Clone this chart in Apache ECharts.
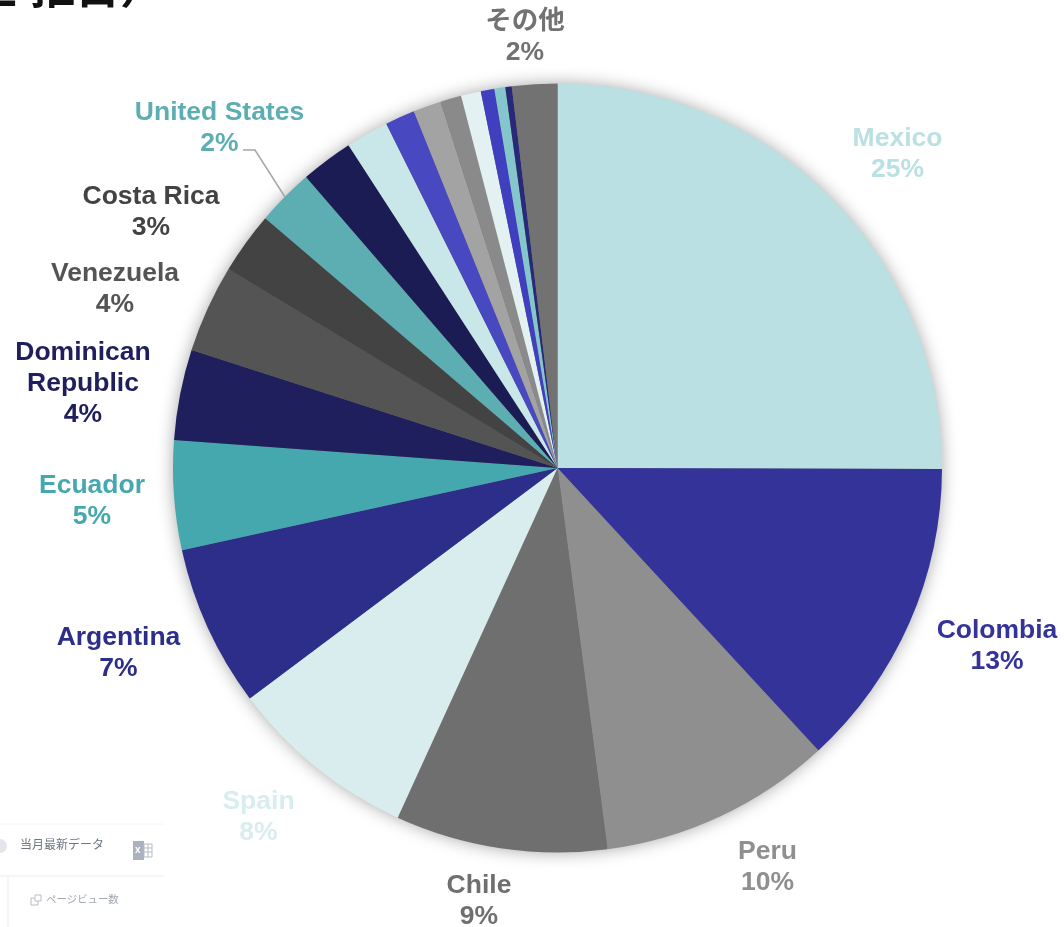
<!DOCTYPE html>
<html>
<head>
<meta charset="utf-8">
<style>html,body{margin:0;padding:0;background:#fff}#chart{width:1064px;height:927px}</style>
<script src="https://cdn.jsdelivr.net/npm/echarts@6/dist/echarts.min.js"></script>
</head>
<body>
<div id="chart"></div>
<script>
// Share of page views by country, clockwise from twelve o'clock.
const countries = ['Mexico','Colombia','Peru','Chile','Spain','Argentina','Ecuador','Dominican\nRepublic','Venezuela','Costa Rica','United States','','','','','','','','','','その他'];
const shares = [25.05,13.1,9.8,8.9,7.95,6.8,4.6,3.8,3.7,2.6,2.4,2.2,1.8,1.25,1.18,0.88,0.84,0.57,0.46,0.27,1.9];
const sliceColors = ['#BBE0E3','#333399','#8F8F8F','#6F6F6F','#D9ECEE','#2D2E8A','#45A8AE','#1F1F5E','#545454','#434343','#5CAEB3','#1C1C55','#C9E6E9','#4848C0','#A3A3A3','#8A8A8A','#E3F1F2','#3F3FBF','#84C6CC','#29297A','#727272'];
const labelColors = {0:'#BBE0E3',1:'#333399',2:'#8F8F8F',3:'#6F6F6F',4:'#D9ECEE',5:'#2D2E8A',6:'#45A8AE',7:'#1F1F5E',8:'#545454',9:'#434343',10:'#5CAEB3',20:'#727272'};
// Label block centres, by slice index.
const labelSpots = {0:[897.5,154],1:[997,646],2:[767.5,867],3:[479,901],4:[258.5,817],5:[118.5,653],6:[92,501],7:[83,384],8:[115,289],9:[151,212],10:[219.5,128],20:[525,37]};
const leaderPoints = {10:[[243,150],[255,150],[285,197]]};

const sansBold = '"Liberation Sans","Noto Sans CJK JP",sans-serif';
const uiFont = '"Noto Sans CJK JP",sans-serif';

const chart = echarts.init(document.getElementById('chart'), null, {renderer:'canvas'});
chart.setOption({
  animation:false,
  backgroundColor:'#fff',
  graphic:[
    {type:'text',x:-28,y:-36,style:{text:'上',font:'bold 45px '+uiFont,fill:'#111'}},
    {type:'text',x:30,y:-36,style:{text:'拒日）',font:'bold 45px '+uiFont,fill:'#111'}},
    {type:'line',shape:{x1:0,y1:824,x2:164,y2:824},style:{stroke:'#F4F6F9',lineWidth:1}},
    {type:'line',shape:{x1:0,y1:876,x2:164,y2:876},style:{stroke:'#F3F3F3',lineWidth:1.5}},
    {type:'line',shape:{x1:8,y1:876,x2:8,y2:927},style:{stroke:'#F3F3F3',lineWidth:1.5}},
    {type:'circle',shape:{cx:0,cy:846,r:7},style:{fill:'#E3E6EB'}},
    {type:'text',x:20,y:838,style:{text:'当月最新データ',font:'12px '+uiFont,fill:'#6E7682'}},
    {type:'rect',shape:{x:133,y:841,width:11,height:19},style:{fill:'#A9B2BD'}},
    {type:'rect',shape:{x:144,y:844,width:8,height:13},style:{fill:'#fff',stroke:'#B5BDC6',lineWidth:1}},
    {type:'line',shape:{x1:144,y1:848,x2:152,y2:848},style:{stroke:'#B5BDC6',lineWidth:1}},
    {type:'line',shape:{x1:144,y1:852,x2:152,y2:852},style:{stroke:'#B5BDC6',lineWidth:1}},
    {type:'line',shape:{x1:148,y1:844,x2:148,y2:857},style:{stroke:'#B5BDC6',lineWidth:1}},
    {type:'text',x:135,y:845,style:{text:'x',font:'bold 10px '+sansBold,fill:'#fff'}},
    {type:'rect',shape:{x:31,y:898,width:7,height:7},style:{fill:'#fff',stroke:'#B8BDC4',lineWidth:1}},
    {type:'rect',shape:{x:35,y:895,width:6,height:6},style:{fill:'#fff',stroke:'#B8BDC4',lineWidth:1}},
    {type:'text',x:46,y:894,style:{text:'ページビュー数',font:'10.4px '+uiFont,fill:'#A2A8B0'}}
  ],
  series:[
    {
      // Soft shadow around the whole disc, tucked just inside the slices' edge.
      type:'pie',silent:true,z:1,center:[557.5,468],radius:[0,383],
      label:{show:false},labelLine:{show:false},
      itemStyle:{color:'#707070',shadowBlur:18,shadowColor:'rgba(0,0,0,0.4)'},
      data:[{value:shares.reduce((a,b)=>a+b,0)}]
    },
    {
      type:'pie',z:2,center:[557.5,468],radius:[0,384.5],startAngle:90,clockwise:true,
      avoidLabelOverlap:false,
      label:{fontFamily:sansBold,fontWeight:'bold',fontSize:26.5,lineHeight:31,align:'center',
        formatter:p=>p.name+'\n'+Math.round(p.value)+'%'},
      labelLine:{show:false},
      emphasis:{disabled:true},
      labelLayout:p=>{
        const s=labelSpots[p.dataIndex];
        if(!s) return {};
        const o={x:s[0],y:s[1],align:'center',verticalAlign:'middle'};
        if(leaderPoints[p.dataIndex]) o.labelLinePoints=leaderPoints[p.dataIndex];
        return o;
      },
      data:shares.map((v,i)=>({
        value:v,name:countries[i],
        itemStyle:{color:sliceColors[i]},
        label:labelSpots[i]?{show:true,color:labelColors[i]}:{show:false},
        labelLine:leaderPoints[i]?{show:true,smooth:false,lineStyle:{color:'#A6A6A6',width:1.5}}:{show:false}
      }))
    }
  ]
});
</script>
</body>
</html>
